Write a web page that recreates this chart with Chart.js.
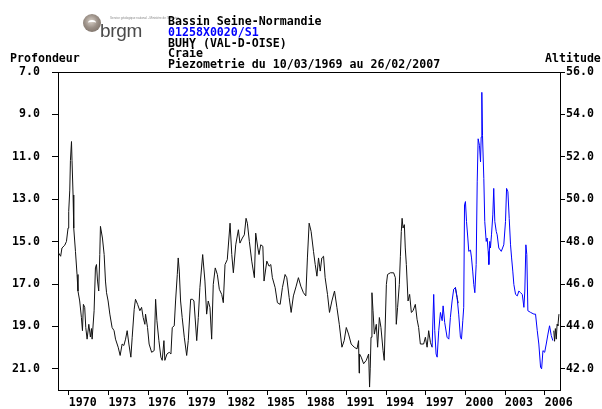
<!DOCTYPE html>
<html>
<head>
<meta charset="utf-8">
<script src="https://cdn.jsdelivr.net/npm/chart.js@4"></script>
<style>
  body { margin: 0; background: #fff; }
  #wrap { position: relative; width: 602px; height: 409px; }
  #wrap canvas { position: absolute; left: 0; top: 0; }
  .txt { position: absolute; font-family: "DejaVu Sans Mono", monospace; font-weight: bold; font-size: 11.6px; line-height: 12px; white-space: pre; color: #000; }
  .logo-ball { position: absolute; left: 83px; top: 14px; width: 18px; height: 18px; border-radius: 50%;
    background: radial-gradient(circle at 45% 40%, #d8d0c8 0, #9a8f86 45%, #6e625a 100%); }
  .logo-ball:after { content: ""; position: absolute; left: 5px; top: 6px; width: 8px; height: 4px; border-top: 2px solid #fff; border-radius: 50%; }
  .logo-txt { position: absolute; left: 100px; top: 20px; font-family: "Liberation Sans", sans-serif; font-size: 19px; color: #4a4a4a; letter-spacing: -0.3px; }
  .logo-small { position: absolute; left: 110px; top: 16px; font-family: "Liberation Sans", sans-serif; font-size: 3px; color: #888; white-space: pre; }
</style>
</head>
<body>
<div id="wrap">
  <canvas id="piezoChart" width="602" height="409"></canvas>
  <div class="logo-ball"></div>
  <div class="logo-small">Service géologique national - Ministère de l'industrie</div>
  <div class="logo-txt">brgm</div>
  <div class="txt" style="left:168px; top:15px;">Bassin Seine-Normandie</div>
  <div class="txt" style="left:168px; top:26px; color:#0000ff;">01258X0020/S1</div>
  <div class="txt" style="left:168px; top:37px;">BUHY (VAL-D-OISE)</div>
  <div class="txt" style="left:168px; top:47px;">Craie</div>
  <div class="txt" style="left:168px; top:58px;">Piezometrie du 10/03/1969 au 26/02/2007</div>
  <div class="txt" style="left:10px; top:52px;">Profondeur</div>
  <div class="txt" style="left:545px; top:52px;">Altitude</div>
</div>
<script>
// axis ticks
const yearTicks = [1970, 1973, 1976, 1979, 1982, 1985, 1988, 1991, 1994, 1997, 2000, 2003, 2006];
const depthTicks = [7, 9, 11, 13, 15, 17, 19, 21];
const altitudeTicks = [42, 44, 46, 48, 50, 52, 54, 56];

// black line (1969 - 1997, plus two short black pieces later on)
const blackYears = [
  1969.24, 1969.39, 1969.49, 1969.70, 1969.83, 1969.95, 1970.00, 1970.08, 1970.13, 1970.21,
  1970.25, 1970.33, 1970.38, 1970.51, 1970.63, 1970.70, 1970.83, 1970.96, 1971.04, 1971.11,
  1971.21, 1971.29, 1971.39, 1971.52, 1971.64, 1971.72, 1971.77, 1971.92, 1972.02, 1972.10,
  1972.18, 1972.27, 1972.35, 1972.40, 1972.55, 1972.68, 1972.78, 1972.86, 1972.98, 1973.11,
  1973.28, 1973.43, 1973.54, 1973.74, 1973.89, 1974.04, 1974.17, 1974.30, 1974.42, 1974.55,
  1974.70, 1974.80, 1974.95, 1975.05, 1975.21, 1975.38, 1975.51, 1975.63, 1975.76, 1975.81,
  1975.96, 1976.08, 1976.27, 1976.46, 1976.57, 1976.67, 1976.82, 1976.97, 1977.07, 1977.20,
  1977.27, 1977.43, 1977.60, 1977.73, 1977.83, 1977.98, 1978.08, 1978.21, 1978.28, 1978.36,
  1978.46, 1978.58, 1978.74, 1978.92, 1979.04, 1979.22, 1979.37, 1979.47, 1979.68, 1979.80,
  1979.92, 1980.13, 1980.30, 1980.43, 1980.55, 1980.68, 1980.81, 1980.93, 1981.08, 1981.24,
  1981.39, 1981.57, 1981.69, 1981.82, 1981.99, 1982.20, 1982.33, 1982.45, 1982.63, 1982.83,
  1982.95, 1983.13, 1983.28, 1983.41, 1983.51, 1983.66, 1983.84, 1984.04, 1984.14, 1984.30,
  1984.39, 1984.52, 1984.68, 1984.77, 1984.98, 1985.15, 1985.28, 1985.40, 1985.61, 1985.78,
  1985.99, 1986.16, 1986.36, 1986.49, 1986.67, 1986.82, 1986.99, 1987.20, 1987.37, 1987.55,
  1987.75, 1987.93, 1988.05, 1988.18, 1988.33, 1988.51, 1988.64, 1988.77, 1988.89, 1989.02,
  1989.14, 1989.27, 1989.39, 1989.57, 1989.72, 1989.90, 1990.10, 1990.28, 1990.46, 1990.66,
  1990.83, 1990.99, 1991.16, 1991.36, 1991.59, 1991.80, 1991.92, 1991.96, 1991.99, 1992.12,
  1992.30, 1992.50, 1992.68, 1992.75, 1992.80, 1992.86, 1992.93, 1993.01, 1993.11, 1993.26,
  1993.36, 1993.49, 1993.61, 1993.77, 1993.86, 1994.02, 1994.11, 1994.32, 1994.57, 1994.70,
  1994.77, 1994.87, 1995.00, 1995.08, 1995.15, 1995.21, 1995.28, 1995.38, 1995.45, 1995.53,
  1995.66, 1995.78, 1995.91, 1996.04, 1996.21, 1996.34, 1996.46, 1996.59, 1996.84, 1996.97,
  1997.10, 1997.22, 1997.35, 1997.48,
  1998.99, 1999.11, 1999.24, 1999.37, 1999.45,
  2006.61, 2006.68, 2006.74, 2006.80, 2006.87, 2006.93, 2006.99, 2007.07
];
const blackDepth = [
  15.54, 15.69, 15.30, 15.17, 14.99, 14.36, 13.58, 12.57, 11.17, 10.28,
  11.17, 12.80, 14.36, 15.46, 16.55, 17.33, 17.80, 18.58, 19.20, 17.96,
  18.10, 19.05, 19.60, 18.90, 19.50, 19.10, 19.60, 18.26, 16.24, 16.08,
  16.86, 17.33, 15.61, 14.28, 14.83, 15.61, 16.86, 17.41, 17.80, 18.42,
  19.05, 19.20, 19.60, 19.98, 20.37, 19.83, 19.90, 19.60, 19.20, 19.83,
  20.45, 19.51, 18.19, 17.72, 17.96, 18.26, 18.10, 18.58, 18.90, 18.42,
  19.05, 19.83, 20.22, 20.14, 17.72, 18.73, 19.67, 20.45, 20.60, 19.67,
  20.60, 20.30, 20.22, 20.30, 19.05, 18.97, 17.80, 16.55, 15.77, 16.39,
  17.80, 18.58, 19.51, 20.37, 19.67, 17.72, 17.72, 17.80, 19.67, 18.58,
  17.17, 15.61, 16.86, 18.42, 17.80, 18.10, 19.60, 17.02, 16.24, 16.55,
  17.25, 17.49, 17.88, 16.08, 15.85, 14.13, 15.61, 16.47, 15.15, 14.44,
  15.07, 14.83, 14.68, 13.90, 14.13, 14.99, 15.92, 16.70, 14.60, 15.30,
  15.61, 15.15, 15.22, 16.86, 15.92, 16.16, 16.08, 16.70, 17.17, 17.88,
  17.96, 17.17, 16.55, 16.70, 17.64, 18.34, 17.56, 17.10, 16.70, 17.10,
  17.41, 17.56, 15.77, 14.13, 14.52, 15.46, 16.08, 16.63, 15.77, 16.39,
  15.77, 15.69, 16.70, 17.49, 18.34, 17.80, 17.33, 18.10, 18.90, 19.98,
  19.67, 19.05, 19.36, 19.83, 19.98, 20.06, 19.67, 21.20, 20.30, 20.45,
  20.76, 20.60, 20.30, 21.86, 21.00, 19.51, 17.41, 18.26, 19.36, 18.90,
  19.98, 18.58, 19.05, 20.14, 20.60, 17.02, 16.55, 16.47, 16.47, 16.70,
  18.90, 18.10, 17.02, 15.69, 14.52, 13.90, 14.36, 14.20, 15.30, 16.08,
  17.80, 17.49, 18.34, 18.26, 17.96, 18.66, 19.05, 19.83, 19.83, 19.51,
  19.98, 19.20, 19.75, 19.98,
  null, 17.25, 17.17, 17.64, 17.90,
  null, 19.20, 19.70, 19.10, 19.60, 18.90, 18.97, 18.42
];

// blue line (1997 - 2007)
const blueYears = [
  1997.48, 1997.60, 1997.68, 1997.78, 1997.86, 1997.98, 1998.11, 1998.24, 1998.31, 1998.43,
  1998.61, 1998.74, 1998.86, 1998.99, 1999.11, 1999.24, 1999.37, 1999.49, 1999.62, 1999.70,
  1999.80, 1999.87, 1999.93, 2000.00, 2000.08, 2000.18, 2000.25, 2000.38, 2000.46, 2000.55,
  2000.63, 2000.71, 2000.81, 2000.89, 2000.96, 2001.06, 2001.14, 2001.19, 2001.24, 2001.29,
  2001.39, 2001.46, 2001.57, 2001.64, 2001.72, 2001.77, 2001.84, 2001.89, 2001.97, 2002.07,
  2002.14, 2002.22, 2002.33, 2002.40, 2002.52, 2002.71, 2002.90, 2003.03, 2003.11, 2003.21,
  2003.31, 2003.41, 2003.49, 2003.58, 2003.66, 2003.79, 2003.92, 2004.04, 2004.17, 2004.30,
  2004.42, 2004.49, 2004.57, 2004.64, 2004.72, 2004.93, 2005.18, 2005.30, 2005.43, 2005.55,
  2005.68, 2005.76, 2005.86, 2005.99, 2006.11, 2006.24, 2006.36, 2006.49, 2006.61
];
const blueDepth = [
  19.98, 17.49, 19.20, 20.30, 20.45, 19.20, 18.34, 18.73, 18.03, 18.81,
  19.51, 19.60, 18.58, 17.80, 17.25, 17.17, 17.64, 18.42, 19.51, 19.60,
  18.73, 18.10, 13.27, 13.11, 14.05, 14.83, 15.46, 15.40, 15.77, 16.39,
  17.02, 17.41, 16.08, 12.18, 10.15, 10.46, 11.24, 10.07, 7.96, 10.00,
  12.02, 14.05, 14.99, 14.83, 15.46, 16.08, 14.99, 15.30, 14.68, 13.74,
  12.49, 14.05, 14.52, 14.68, 15.30, 15.46, 15.15, 14.05, 12.49, 12.65,
  13.90, 15.15, 15.77, 16.39, 17.02, 17.49, 17.56, 17.33, 17.41, 17.49,
  18.10, 17.33, 15.15, 15.61, 18.26, 18.34, 18.42, 18.42, 19.20, 19.83,
  20.92, 21.00, 20.14, 20.22, 19.83, 19.36, 18.97, 19.43, 19.67
];

const tickFont = { family: "DejaVu Sans Mono", weight: "bold", size: 11.6 };

function toPoints(xs, ys) {
  return xs.map((x, i) => ({ x: x, y: ys[i] }));
}

// top border of the plot frame
const frameTop = {
  id: "frameTop",
  afterDraw(chart) {
    const a = chart.chartArea;
    const ctx = chart.ctx;
    ctx.save();
    ctx.strokeStyle = "#000";
    ctx.lineWidth = 1;
    ctx.beginPath();
    ctx.moveTo(a.left, a.top + 0.5);
    ctx.lineTo(a.right, a.top + 0.5);
    ctx.stroke();
    ctx.restore();
  }
};

new Chart(document.getElementById("piezoChart").getContext("2d"), {
  type: "line",
  data: {
    datasets: [
      {
        data: toPoints(blueYears, blueDepth),
        borderColor: "#0000ff",
        borderWidth: 1,
        pointRadius: 0,
        tension: 0,
        yAxisID: "y"
      },
      {
        data: toPoints(blackYears, blackDepth),
        borderColor: "#111",
        borderWidth: 1,
        pointRadius: 0,
        tension: 0,
        spanGaps: false,
        yAxisID: "y"
      }
    ]
  },
  options: {
    responsive: false,
    animation: false,
    layout: { padding: { top: 72, left: 0, right: 0, bottom: 0 } },
    plugins: { legend: { display: false }, tooltip: { enabled: false } },
    scales: {
      x: {
        type: "linear",
        min: 1969.19,
        max: 2007.15,
        afterBuildTicks: s => { s.ticks = yearTicks.map(v => ({ value: v })); },
        afterFit: s => { s.height = 16; },
        ticks: { align: "start", padding: 1, color: "#000", font: tickFont, maxRotation: 0, autoSkip: false, callback: v => String(v) },
        grid: { drawOnChartArea: false, tickLength: 5, color: "#000" },
        border: { color: "#000" }
      },
      y: {
        position: "left",
        reverse: true,
        min: 7,
        max: 22,
        afterBuildTicks: s => { s.ticks = depthTicks.map(v => ({ value: v })); },
        afterFit: s => { s.width = 58; },
        ticks: { padding: 12, color: "#000", font: tickFont, callback: v => v.toFixed(1) },
        grid: { drawOnChartArea: false, tickLength: 6, color: "#000" },
        border: { color: "#000" }
      },
      y2: {
        position: "right",
        min: 41,
        max: 56,
        afterBuildTicks: s => { s.ticks = altitudeTicks.map(v => ({ value: v })); },
        afterFit: s => { s.width = 42; },
        ticks: { padding: 1, color: "#000", font: tickFont, callback: v => v.toFixed(1) },
        grid: { drawOnChartArea: false, tickLength: 5, color: "#000" },
        border: { color: "#000" }
      }
    }
  },
  plugins: [frameTop]
});
</script>
</body>
</html>
